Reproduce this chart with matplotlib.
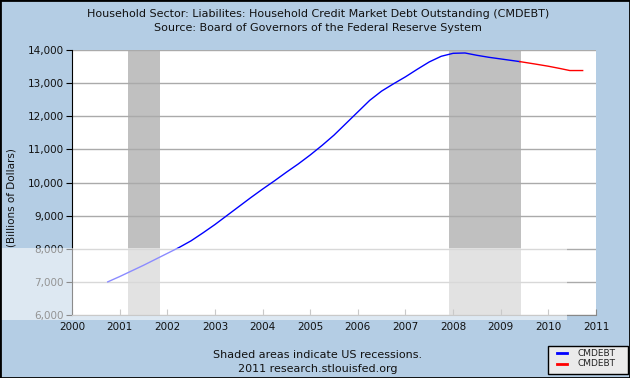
import matplotlib
matplotlib.use("Agg")
import matplotlib.pyplot as plt
from matplotlib.patches import Rectangle

# ------------------------
# Data (quarterly, billions of dollars)
# ------------------------
blue_years = [2000.75, 2001.00, 2001.25, 2001.50, 2001.75, 2002.00, 2002.25, 2002.50,
              2002.75, 2003.00, 2003.25, 2003.50, 2003.75, 2004.00, 2004.25, 2004.50,
              2004.75, 2005.00, 2005.25, 2005.50, 2005.75, 2006.00, 2006.25, 2006.50,
              2006.75, 2007.00, 2007.25, 2007.50, 2007.75, 2008.00, 2008.25, 2008.50,
              2008.75, 2009.00, 2009.25, 2009.40]
blue_values = [7000, 7160, 7330, 7500, 7680, 7860, 8040, 8240,
               8480, 8730, 9000, 9270, 9540, 9800, 10050, 10310,
               10560, 10830, 11120, 11430, 11780, 12130, 12480, 12760,
               12980, 13190, 13420, 13640, 13810, 13900, 13910, 13840,
               13780, 13730, 13680, 13650]

red_years = [2009.40, 2009.75, 2010.00, 2010.25, 2010.45, 2010.72]
red_values = [13650, 13570, 13510, 13440, 13380, 13380]

recessions = [(2001.17, 2001.85), (2007.92, 2009.42)]

year_ticks = list(range(2000, 2012))
value_ticks = [6000, 7000, 8000, 9000, 10000, 11000, 12000, 13000, 14000]

bg = "#b4cde4"

# ------------------------
# Figure
# ------------------------
fig = plt.figure(figsize=(6.3, 3.78), dpi=100, facecolor=bg)
ax = fig.add_axes([72 / 630, 1 - 315 / 378, 524 / 630, 265 / 378])
ax.set_facecolor("white")

for start, end in recessions:
    ax.axvspan(start, end, color="#c0c0c0", lw=0, zorder=1)

for v in value_ticks:
    ax.axhline(v, color="#aaaaaa", lw=1, zorder=2)

ax.plot(blue_years, blue_values, color="#0000ff", lw=1, zorder=3)
ax.plot(red_years, red_values, color="#ff0000", lw=1, zorder=3)

ax.set_xlim(2000, 2011)
ax.set_ylim(6000, 14000)
ax.set_xticks(year_ticks)
ax.set_yticks(value_ticks)
ax.set_yticklabels([f"{v:,}" for v in value_ticks])

ax.tick_params(axis="x", direction="in", length=4, color="#888888",
               labelsize=7.5, pad=5, labelcolor="#111111")
ax.tick_params(axis="y", direction="out", length=4, color="#000000",
               labelsize=7.5, pad=2, labelcolor="#111111")

ax.spines["right"].set_visible(False)
ax.spines["top"].set_visible(False)
ax.spines["left"].set_color("#000000")
ax.spines["bottom"].set_color("#888888")

# titles and notes
fig.text(0.505, 1 - 14 / 378, "Household Sector: Liabilites: Household Credit Market Debt Outstanding (CMDEBT)",
         ha="center", va="center", fontsize=8, color="#111111")
fig.text(0.505, 1 - 28 / 378, "Source: Board of Governors of the Federal Reserve System",
         ha="center", va="center", fontsize=8, color="#111111")
fig.text(12 / 630, 1 - 198 / 378, "(Billions of Dollars)", rotation=90,
         ha="center", va="center", fontsize=7.5, color="#111111")
fig.text(318 / 630, 1 - 355 / 378, "Shaded areas indicate US recessions.",
         ha="center", va="center", fontsize=8, color="#111111")
fig.text(318 / 630, 1 - 369 / 378, "2011 research.stlouisfed.org",
         ha="center", va="center", fontsize=8, color="#111111")

# legend box
fig.patches.append(Rectangle((548 / 630, 1 - 374 / 378), 80 / 630, 28 / 378,
                             transform=fig.transFigure, facecolor="#ebebeb",
                             edgecolor="black", lw=1, zorder=5))
for row_y, col in [(353, "#0000ff"), (364, "#ff0000")]:
    fig.add_artist(plt.Line2D([557 / 630, 567 / 630], [1 - row_y / 378] * 2,
                              color=col, lw=2, transform=fig.transFigure, zorder=6))
    fig.text(577 / 630, 1 - row_y / 378, "CMDEBT", ha="left", va="center",
             fontsize=6.5, color="#222222", zorder=6)

# faint watermark band of the source image
fig.patches.append(Rectangle((0, 1 - 320 / 378), 567 / 630, 72 / 378,
                             transform=fig.transFigure, facecolor="white",
                             edgecolor="none", alpha=0.55, zorder=10))

# outer border
fig.patches.append(Rectangle((0, 0), 1, 1, transform=fig.transFigure,
                             facecolor="none", edgecolor="black", lw=2, zorder=11))

fig.savefig("out.png", dpi=100, facecolor=bg)
